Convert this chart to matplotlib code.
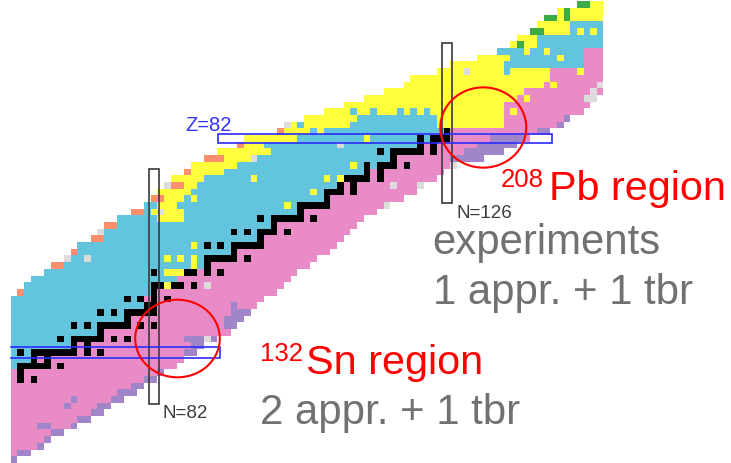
import numpy as np
import matplotlib
matplotlib.use("Agg")
import matplotlib.pyplot as plt
from matplotlib.colors import ListedColormap, BoundaryNorm
from matplotlib.patches import Rectangle, Ellipse

W, H = 731, 463

#--------
# decay mode codes:
# 0 none, 1 beta-, 2 beta+/EC, 3 alpha, 4 stable, 5 p, 6 unknown, 7 beta-n, 8 SF
mode_colors = ["#ffffff", "#e98bc6", "#62c4dd", "#ffff3c", "#000000",
               "#f98f6c", "#dcdcdc", "#a086c8", "#3daa48"]

z_rows = list(range(34, 103))

# first and last neutron number shown in each row (Z=34..102)
n_first = [61] * 24 + [61, 62, 63, 64, 66, 67, 69, 70, 71, 73, 74, 75, 77, 79,
                       81, 82, 83, 84, 85, 87, 88, 90, 92, 95, 96, 101, 102,
                       105, 108, 111, 114, 117, 120, 121, 125, 127, 131, 134,
                       136, 137, 139, 140, 141, 143, 146]
n_last = [61, 63, 65, 66, 68, 70, 72, 74, 75, 77, 79, 80, 82, 83, 85, 86, 88,
          89, 91, 93, 94, 95, 96, 97, 98, 100, 101, 102, 103, 105, 106, 108,
          109, 110, 111, 112, 113, 115, 117, 119, 121, 122, 124, 125, 127,
          131, 134, 136, 138, 141, 143, 144, 146, 147, 148] + [149] * 14

# stable isotopes (neutron numbers) for Z=34..83
stable_n = [
    [40, 42, 43, 44, 46, 48],            # Se
    [44, 46],                            # Br
    [42, 44, 46, 47, 48, 50],            # Kr
    [48],                                # Rb
    [46, 48, 49, 50],                    # Sr
    [50],                                # Y
    [50, 51, 52, 54, 56],                # Zr
    [52],                                # Nb
    [50, 52, 53, 54, 55, 56, 58],        # Mo
    [],                                  # Tc
    [52, 54, 55, 56, 57, 58, 60],        # Ru
    [58],                                # Rh
    [56, 58, 59, 60, 62, 64],            # Pd
    [60, 62],                            # Ag
    [58, 60, 62, 63, 64, 65, 66, 68],    # Cd
    [64, 66],                            # In
    [62, 64, 65, 66, 67, 68, 69, 70, 72, 74],  # Sn
    [70, 72],                            # Sb
    [68, 70, 71, 72, 73, 74, 76, 78],    # Te
    [74],                                # I
    [70, 72, 74, 75, 76, 77, 78, 80, 82],  # Xe
    [78],                                # Cs
    [74, 76, 78, 79, 80, 81, 82],        # Ba
    [81, 82],                            # La
    [78, 80, 82, 84],                    # Ce
    [82],                                # Pr
    [82, 83, 85, 86, 88],                # Nd
    [],                                  # Pm
    [82, 87, 88, 90, 92],                # Sm
    [90],                                # Eu
    [90, 91, 92, 93, 94, 96],            # Gd
    [94],                                # Tb
    [90, 92, 94, 95, 96, 97, 98],        # Dy
    [98],                                # Ho
    [94, 96, 98, 99, 100, 102],          # Er
    [100],                               # Tm
    [98, 100, 101, 102, 103, 104, 106],  # Yb
    [104],                               # Lu
    [104, 105, 106, 107, 108],           # Hf
    [108],                               # Ta
    [108, 109, 110, 112],                # W
    [110, 112],                          # Re
    [111, 112, 113, 114, 116],           # Os
    [114, 116],                          # Ir
    [114, 116, 117, 118, 120],           # Pt
    [118],                               # Au
    [116, 118, 119, 120, 121, 122, 124], # Hg
    [122, 124],                          # Tl
    [122, 124, 125, 126],                # Pb
    [126],                               # Bi
]
# rows without stable isotopes: first beta- neutron number
fixed_z = [43, 61]
fixed_pink = [56, 86]

# (Z, N from, N to)
alpha_ranges = [(70, 83, 86), (71, 82, 82), (71, 84, 86), (72, 83, 85),
                (73, 84, 86), (74, 83, 87), (75, 87, 88), (76, 85, 89),
                (77, 88, 92), (78, 88, 94), (79, 93, 96), (80, 92, 99),
                (81, 96, 98), (82, 96, 103), (83, 102, 107)]
blue_ranges = [(83, 106, 106), (84, 104, 104), (84, 112, 124), (85, 113, 124),
               (86, 112, 112), (86, 115, 115), (86, 119, 119), (86, 121, 121),
               (86, 123, 123), (92, 135, 135), (93, 135, 146), (94, 136, 146),
               (95, 134, 146), (96, 140, 149), (97, 140, 149), (98, 145, 149),
               (99, 145, 149)]
pink_ranges = [(84, 135, 143), (85, 135, 144), (86, 135, 146), (87, 135, 147),
               (88, 137, 148), (89, 138, 149), (90, 141, 149), (91, 142, 149),
               (92, 142, 149), (93, 147, 149), (94, 147, 149), (95, 147, 149)]
purple_ranges = [(34, 61, 61), (35, 62, 63), (36, 65, 65), (37, 66, 66),
                 (38, 67, 68), (39, 65, 66), (39, 70, 70), (40, 71, 72),
                 (41, 73, 74), (42, 69, 69), (42, 74, 75), (43, 70, 70),
                 (43, 76, 77), (44, 77, 79), (45, 79, 80), (46, 81, 82),
                 (47, 83, 83), (50, 87, 88), (51, 88, 89), (52, 87, 89),
                 (52, 91, 91), (54, 93, 94), (55, 93, 95), (56, 94, 96),
                 (57, 94, 94), (79, 127, 131), (80, 129, 134), (81, 131, 136),
                 (82, 133, 137), (83, 140, 141), (84, 143, 143), (85, 144, 144)]

# (Z, N) single cells
alpha_cells = [(60, 84), (62, 84), (62, 85), (62, 86), (63, 88), (64, 84),
               (64, 86), (64, 88), (66, 88), (73, 88), (72, 102), (74, 106),
               (76, 97), (76, 108), (76, 110), (78, 112), (82, 114), (86, 136),
               (88, 138), (90, 142), (92, 146), (94, 143), (95, 138), (95, 141),
               (98, 146), (98, 148)]
sf_cells = [(96, 137), (98, 139), (98, 140), (100, 141), (100, 142),
            (100, 144), (101, 144), (102, 146), (102, 147)]
p_cells = [(59, 62), (63, 67), (63, 68), (65, 70), (67, 73), (67, 74),
           (69, 75), (69, 76), (71, 79), (71, 80), (73, 82), (73, 83),
           (75, 85), (75, 86), (77, 87), (79, 90), (79, 91), (79, 92),
           (81, 95), (83, 101)]
unknown_cells = [(52, 90), (60, 90), (64, 69), (64, 72), (68, 74), (71, 83),
                 (72, 117), (75, 84), (75, 118), (75, 122), (78, 127),
                 (79, 97), (81, 110), (84, 102), (88, 147), (88, 148),
                 (89, 148), (90, 149), (92, 129)]

#--------
# build the grid of decay modes
n_cols = np.arange(61, 150)
grid = np.zeros((len(z_rows), len(n_cols)), dtype=int)


def put(z, n0, n1, code):
    i = z - z_rows[0]
    grid[i, n0 - n_cols[0]:n1 - n_cols[0] + 1] = code


for i, z in enumerate(z_rows):
    n0, n1 = n_first[i], n_last[i]
    if z <= 83:
        st = stable_n[i]
        if z in fixed_z:
            pf = fixed_pink[fixed_z.index(z)]
        else:
            med = np.median(st)
            pf = min(n for n in range(200) if n >= med and n not in st)
        for n in range(n0, n1 + 1):
            grid[i, n - n_cols[0]] = 1 if n >= pf else 2
    else:
        put(z, n0, n1, 3)

for z, a, b in alpha_ranges:
    put(z, a, b, 3)
for z, a, b in blue_ranges:
    put(z, a, b, 2)
for z, a, b in pink_ranges:
    put(z, a, b, 1)
for i, z in enumerate(z_rows):
    if z <= 83:
        for n in stable_n[i]:
            if n_first[i] <= n <= n_last[i]:
                put(z, n, n, 4)
for z, a, b in purple_ranges:
    put(z, a, b, 7)
for z, n in alpha_cells:
    put(z, n, n, 3)
for z, n in sf_cells:
    put(z, n, n, 8)
for z, n in p_cells:
    put(z, n, n, 5)
for z, n in unknown_cells:
    put(z, n, n, 6)

#--------
# plot
fig = plt.figure(figsize=(W / 100, H / 100), dpi=100)
ax = fig.add_axes([0, 0, 1, 1])
ax.set_xlim(58.873, 168.65)
ax.set_ylim(33.483, 102.69)
ax.axis("off")

cmap = ListedColormap(mode_colors)
norm = BoundaryNorm(np.arange(-0.5, len(mode_colors)), len(mode_colors))
ax.pcolormesh(np.arange(60.5, 150.5), np.arange(33.5, 103.5), grid,
              cmap=cmap, norm=norm, shading="flat", antialiased=False,
              edgecolors="none")

# magic number boxes
box_dark = "#3a3a3a"
box_blue = "#2b2bff"
ax.add_patch(Rectangle((81.32, 42.3), 1.36, 35.13, fill=False,
                       ec=box_dark, lw=1.2, zorder=3))
ax.add_patch(Rectangle((125.32, 72.35), 1.36, 23.9, fill=False,
                       ec=box_dark, lw=1.2, zorder=3))
ax.add_patch(Rectangle((91.6, 81.32), 50.17, 1.35, fill=False,
                       ec=box_blue, lw=1.2, zorder=3))
ax.plot([60.5, 91.9, 91.9, 60.5], [50.82, 50.82, 49.18, 49.18],
        color=box_blue, lw=1.2, zorder=3)

# red circles
ax.add_patch(Ellipse((85.53, 52.09), 12.7, 11.6, fill=False,
                     ec="#ff0000", lw=1.5, zorder=4))
ax.add_patch(Ellipse((131.45, 83.63), 12.9, 12.0, fill=False,
                     ec="#ff0000", lw=1.5, zorder=4))

#--------
# labels
font = "Liberation Sans"
red = "#ff0000"
grey = "#737070"


def label(x, y, s, size, color):
    fig.text(x / W, 1 - y / H, s, fontsize=size, color=color, family=font,
             ha="left", va="baseline")


label(185, 131, "Z=82", 14.5, "#3535f5")
label(457, 218, "N=126", 13.5, "#3c3c3c")
label(163, 418, "N=82", 13.5, "#3c3c3c")
label(501, 187, "208", 18.5, red)
label(549, 200, "Pb region", 29.8, red)
label(432, 254, "experiments", 30.2, grey)
label(433, 304, "1 appr. + 1 tbr", 30.2, grey)
label(260, 361, "132", 18.5, red)
label(306, 374, "Sn region", 29.8, red)
label(260, 424, "2 appr. + 1 tbr", 30.2, grey)

fig.savefig("out.png", dpi=100)
